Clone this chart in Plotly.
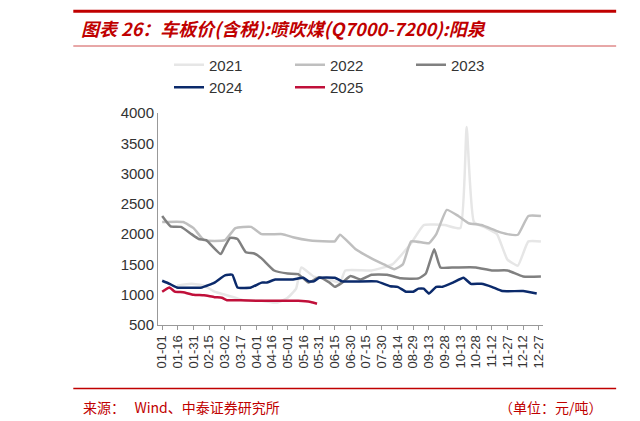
import plotly.graph_objects as go

tick_labels = ["01-01","01-16","01-31","02-15","03-02","03-17","04-01","04-16","05-01","05-16","05-31","06-15","06-30","07-15","07-30","08-14","08-29","09-13","09-28","10-13","10-28","11-12","11-27","12-12","12-27"]

x21 = [14,28,40,50,60,70,80,95,110,120,128,133,145,160,170,175,200,220,238,250,270,285,291,298,310,320,330,340,350,362]
y21 = [1150,1180,1150,1050,1000,950,900,900,870,950,1100,1450,1300,1250,1200,1400,1400,1500,1850,2150,2150,2100,3770,2200,2100,2000,1580,1480,1880,1880]

x22 = [0,20,30,40,60,70,85,95,115,125,140,160,165,170,185,200,212,222,230,238,255,262,272,283,293,305,320,330,340,350,362]
y22 = [2200,2200,2100,1900,1900,2100,2120,2000,2000,1950,1900,1880,1880,1990,1750,1600,1500,1420,1500,1880,1850,2000,2400,2300,2180,2150,2050,2000,1990,2300,2300]

x23 = [0,8,18,28,35,42,56,60,65,72,80,88,95,107,120,130,140,150,160,165,172,180,190,200,215,228,245,252,260,266,280,300,315,330,345,362]
y23 = [2300,2130,2120,2000,1920,1900,1670,1800,1940,1920,1700,1680,1600,1400,1350,1340,1200,1290,1200,1130,1200,1310,1250,1330,1330,1270,1270,1350,1750,1450,1450,1450,1400,1400,1300,1300]

x24 = [0,7,14,38,50,60,67,72,85,95,100,108,125,135,140,145,150,165,172,205,218,225,233,240,245,250,255,262,268,278,288,295,305,315,325,345,358]
y24 = [1230,1180,1120,1120,1200,1320,1330,1120,1120,1200,1200,1250,1250,1280,1220,1220,1280,1280,1220,1220,1140,1130,1050,1050,1100,1100,1020,1130,1130,1200,1280,1180,1180,1130,1060,1060,1020]

x25 = [0,7,12,20,30,40,50,57,62,75,90,130,142,148]
y25 = [1050,1120,1050,1040,1000,990,960,950,910,910,900,900,880,850]

series = [("2021", x21, y21, "#e6e6e6"), ("2022", x22, y22, "#bfbfbf"),
          ("2023", x23, y23, "#808080"), ("2024", x24, y24, "#0b2a6b"),
          ("2025", x25, y25, "#c0103a")]

fig = go.Figure()
for name, xs, ys, c in series:
    fig.add_trace(go.Scatter(x=xs, y=ys, name=name, mode="lines",
                             line=dict(color=c, width=2.5, shape="spline", smoothing=0.4)))

font = "Liberation Sans, Arial, sans-serif"
fig.update_layout(
    width=640, height=421, paper_bgcolor="white", plot_bgcolor="white",
    margin=dict(l=150, r=105, t=105, b=104),
    font=dict(family=font, size=14, color="#333"),
    showlegend=True,
    legend=dict(orientation="h", x=0.5, xanchor="center", y=1.175, yanchor="middle",
                font=dict(size=15, color="#333"), traceorder="normal",
                entrywidth=76, entrywidthmode="pixels", itemwidth=30),
    xaxis=dict(range=[-4, 364], tickvals=[i*15 for i in range(25)], ticktext=tick_labels,
               tickangle=-90, showgrid=False, showline=True, linecolor="#999",
               ticks="outside", ticklen=4, tickcolor="#999", tickfont=dict(size=13, color="#333")),
    yaxis=dict(range=[500, 4000], dtick=500, showgrid=False, showline=True, linecolor="#999",
               ticks="", tickfont=dict(size=15, color="#333")),
    shapes=[
        dict(type="line", xref="paper", yref="paper", x0=-0.22, x1=1.19, y0=1.48, y1=1.48,
             line=dict(color="#c00000", width=3)),
        dict(type="line", xref="paper", yref="paper", x0=-0.22, x1=1.19, y0=1.316, y1=1.316,
             line=dict(color="#d05050", width=1)),
        dict(type="line", xref="paper", yref="paper", x0=-0.22, x1=1.19, y0=-0.3, y1=-0.3,
             line=dict(color="#c00000", width=1.5)),
    ],
    annotations=[
        dict(text="<b><i>图表 26：车板价(含税):喷吹煤(Q7000-7200):阳泉</i></b>", xref="paper", yref="paper",
             x=-0.205, y=1.40, xanchor="left", yanchor="middle", showarrow=False,
             font=dict(size=18, color="#c00000", family="Noto Sans CJK SC")),
        dict(text="来源：   Wind、中泰证券研究所", xref="paper", yref="paper", x=-0.2, y=-0.385,
             xanchor="left", yanchor="middle", showarrow=False,
             font=dict(size=14, color="#c00000", family="Noto Sans CJK SC")),
        dict(text="（单位：元/吨）", xref="paper", yref="paper", x=1.16, y=-0.385,
             xanchor="right", yanchor="middle", showarrow=False,
             font=dict(size=14, color="#c00000", family="Noto Sans CJK SC")),
    ],
)
fig.write_html("out.html")
